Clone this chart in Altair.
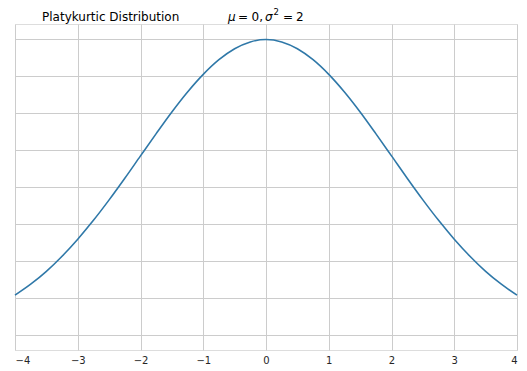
import altair as alt
import pandas as pd

# values
x_vals = [-4.0, -3.75, -3.5, -3.25, -3.0, -2.75, -2.5, -2.25, -2.0, -1.75, -1.5, -1.25,
          -1.0, -0.75, -0.5, -0.25, 0.0, 0.25, 0.5, 0.75, 1.0, 1.25, 1.5, 1.75,
          2.0, 2.25, 2.5, 2.75, 3.0, 3.25, 3.5, 3.75, 4.0]
y_vals = [0.0270, 0.0344, 0.0431, 0.0533, 0.0648, 0.0775, 0.0913, 0.1059, 0.1210, 0.1360,
          0.1506, 0.1641, 0.1760, 0.1859, 0.1933, 0.1979, 0.1995, 0.1979, 0.1933, 0.1859,
          0.1760, 0.1641, 0.1506, 0.1360, 0.1210, 0.1059, 0.0913, 0.0775, 0.0648, 0.0533,
          0.0431, 0.0344, 0.0270]
x_ticks = [-4, -3, -2, -1, 0, 1, 2, 3, 4]
y_grid = [0.0, 0.025, 0.05, 0.075, 0.1, 0.125, 0.15, 0.175, 0.2]
title_left = "Platykurtic Distribution"
# pieces of the math title "μ = 0, σ² = 2"
math_text = ["μ", "=", "0,", "σ", "2", "=", "2"]
math_style = ["italic", "normal", "normal", "italic", "normal", "normal", "normal"]
math_size = [12, 12, 12, 12, 8.5, 12, 12]
math_x = [213, 223, 236.5, 250, 258.5, 268, 281]
math_y = [-3.5, -3.5, -3.5, -3.5, -9, -3.5, -3.5]

df = pd.DataFrame({"x": x_vals, "y": y_vals})

line = alt.Chart(df).mark_line(color="#2f78a8", strokeWidth=1.6, interpolate="monotone").encode(
    x=alt.X("x:Q",
            scale=alt.Scale(domain=[-4, 4], nice=False, zero=False),
            axis=alt.Axis(values=x_ticks, title=None, grid=True, ticks=False, tickSize=0,
                          domain=False, labelPadding=5, labelFontSize=10,
                          labelFont="DejaVu Sans", labelColor="#262626", format="d",
                          gridColor="#cccccc", gridWidth=1)),
    y=alt.Y("y:Q",
            scale=alt.Scale(domain=[-0.01, 0.21], nice=False, zero=False),
            axis=alt.Axis(values=y_grid, title=None, grid=True, labels=False, ticks=False,
                          tickSize=0, domain=False, gridColor="#cccccc", gridWidth=1)),
)

t1 = alt.Chart(pd.DataFrame({"t": [title_left]})).mark_text(
    align="left", baseline="alphabetic", font="DejaVu Sans", fontSize=12, color="#000000"
).encode(text="t:N", x=alt.value(27), y=alt.value(-3.5))

layers = [line, t1]
for txt, sty, sz, px, py in zip(math_text, math_style, math_size, math_x, math_y):
    layers.append(
        alt.Chart(pd.DataFrame({"t": [txt]})).mark_text(
            align="left", baseline="alphabetic", font="DejaVu Sans", fontSize=sz,
            fontStyle=sty, color="#000000"
        ).encode(text="t:N", x=alt.value(px), y=alt.value(py))
    )

chart = alt.layer(*layers).properties(
    width=502, height=326,
    padding={"left": 15, "top": 24, "right": 10, "bottom": 21},
    autosize="none",
).configure_view(stroke="#cccccc", strokeWidth=1.2).configure(background="white")

chart.save("out.html", embed_options={"renderer": "svg", "actions": False})
